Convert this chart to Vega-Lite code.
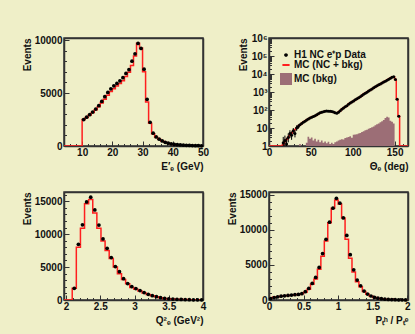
{
  "$schema": "https://vega.github.io/schema/vega-lite/v6.json",
  "background": "#efefc8",
  "padding": {"left": 21, "top": 32, "right": 5, "bottom": 8},
  "columns": 2,
  "spacing": {"row": 46, "column": 66},
  "bounds": "flush",
  "datasets": {
    "p1": [
      {"lo": 4, "mc": 0},
      {"lo": 10, "c": 10.5, "mc": 2490, "d": 2490},
      {"lo": 11, "c": 11.5, "mc": 2680, "d": 2720},
      {"lo": 12, "c": 12.5, "mc": 2920, "d": 2960},
      {"lo": 13, "c": 13.5, "mc": 3150, "d": 3200},
      {"lo": 14, "c": 14.5, "mc": 3420, "d": 3480},
      {"lo": 15, "c": 15.5, "mc": 3700, "d": 3800},
      {"lo": 16, "c": 16.5, "mc": 4050, "d": 4200},
      {"lo": 17, "c": 17.5, "mc": 4400, "d": 4650},
      {"lo": 18, "c": 18.5, "mc": 4800, "d": 5050},
      {"lo": 19, "c": 19.5, "mc": 5150, "d": 5400},
      {"lo": 20, "c": 20.5, "mc": 5400, "d": 5680},
      {"lo": 21, "c": 21.5, "mc": 5650, "d": 5900},
      {"lo": 22, "c": 22.5, "mc": 5900, "d": 6150},
      {"lo": 23, "c": 23.5, "mc": 6150, "d": 6450},
      {"lo": 24, "c": 24.5, "mc": 6550, "d": 6850},
      {"lo": 25, "c": 25.5, "mc": 6950, "d": 7200},
      {"lo": 26, "c": 26.5, "mc": 7600, "d": 8000},
      {"lo": 27, "c": 27.5, "mc": 8500, "d": 8700},
      {"lo": 28, "c": 28.5, "mc": 9700, "d": 9680},
      {"lo": 29, "c": 29.5, "mc": 9250, "d": 9200},
      {"lo": 30, "c": 30.5, "mc": 7000, "d": 7250},
      {"lo": 31, "c": 31.5, "mc": 4150, "d": 4410},
      {"lo": 32, "c": 32.5, "mc": 2150, "d": 2240},
      {"lo": 33, "c": 33.5, "mc": 1150, "d": 1210},
      {"lo": 34, "c": 34.5, "mc": 830, "d": 860},
      {"lo": 35, "c": 35.5, "mc": 630, "d": 640},
      {"lo": 36, "c": 36.5, "mc": 470, "d": 480},
      {"lo": 37, "c": 37.5, "mc": 345, "d": 350},
      {"lo": 38, "c": 38.5, "mc": 255, "d": 260},
      {"lo": 39, "c": 39.5, "mc": 185, "d": 190},
      {"lo": 40, "c": 40.5, "mc": 145, "d": 150},
      {"lo": 41, "c": 41.5, "mc": 118, "d": 120},
      {"lo": 42, "c": 42.5, "mc": 98, "d": 100},
      {"lo": 43, "c": 43.5, "mc": 78, "d": 80},
      {"lo": 44, "c": 44.5, "mc": 60, "d": 60},
      {"lo": 45, "c": 45.5, "mc": 48, "d": 50},
      {"lo": 46, "c": 46.5, "mc": 38, "d": 40},
      {"lo": 47, "c": 47.5, "mc": 30, "d": 30},
      {"lo": 48, "c": 48.5, "mc": 24, "d": 25},
      {"lo": 49, "c": 49.5, "mc": 20, "d": 20},
      {"lo": 50, "mc": 20}
    ],
    "p2": [
      {"lo": 0, "mc": 1},
      {"lo": 16, "c": 17, "mc": 1.2, "d": 1.5, "elo": 1, "ehi": 3.2},
      {"lo": 18, "c": 19, "mc": 1.7, "d": 2, "elo": 1, "ehi": 3.8},
      {"lo": 20, "c": 21, "mc": 2.3, "d": 1.3, "elo": 1, "ehi": 2.8},
      {"lo": 22, "c": 23, "mc": 3, "d": 3, "elo": 1.6, "ehi": 5},
      {"lo": 24, "c": 25, "mc": 4, "d": 5, "elo": 2.8, "ehi": 7.5},
      {"lo": 26, "c": 27, "mc": 5.2, "d": 4, "elo": 2.2, "ehi": 6.5},
      {"lo": 28, "c": 29, "mc": 6.7, "d": 7, "elo": 4.5, "ehi": 10},
      {"lo": 30, "c": 31, "mc": 8.3, "d": 5, "elo": 3, "ehi": 7.8},
      {"lo": 32, "c": 33, "mc": 10, "d": 10, "elo": 7, "ehi": 14},
      {"lo": 34, "c": 35, "mc": 12.5, "d": 12, "elo": 9, "ehi": 16},
      {"lo": 36, "c": 37, "mc": 15, "d": 15},
      {"lo": 38, "c": 39, "mc": 18, "d": 18},
      {"lo": 40, "c": 41, "mc": 21, "d": 21},
      {"lo": 42, "c": 43, "mc": 24, "d": 24},
      {"lo": 44, "c": 45, "mc": 28, "d": 28},
      {"lo": 46, "c": 47, "mc": 32, "d": 32},
      {"lo": 48, "c": 49, "mc": 36, "d": 36},
      {"lo": 50, "c": 51, "mc": 40, "d": 40},
      {"lo": 52, "c": 53, "mc": 43, "d": 43},
      {"lo": 54, "c": 55, "mc": 48, "d": 48},
      {"lo": 56, "c": 57, "mc": 55, "d": 55},
      {"lo": 58, "c": 59, "mc": 62, "d": 62},
      {"lo": 60, "c": 61, "mc": 69, "d": 70},
      {"lo": 62, "c": 63, "mc": 75, "d": 76},
      {"lo": 64, "c": 65, "mc": 80, "d": 80},
      {"lo": 66, "c": 67, "mc": 84, "d": 84},
      {"lo": 68, "c": 69, "mc": 87, "d": 88},
      {"lo": 70, "c": 71, "mc": 86, "d": 86},
      {"lo": 72, "c": 73, "mc": 84, "d": 84},
      {"lo": 74, "c": 75, "mc": 81, "d": 82},
      {"lo": 76, "c": 77, "mc": 77, "d": 77},
      {"lo": 78, "c": 79, "mc": 70, "d": 70},
      {"lo": 80, "c": 81, "mc": 67, "d": 67},
      {"lo": 82, "c": 83, "mc": 75, "d": 75},
      {"lo": 84, "c": 85, "mc": 92, "d": 92},
      {"lo": 86, "c": 87, "mc": 110, "d": 110},
      {"lo": 88, "c": 89, "mc": 130, "d": 130},
      {"lo": 90, "c": 91, "mc": 150, "d": 150},
      {"lo": 92, "c": 93, "mc": 175, "d": 175},
      {"lo": 94, "c": 95, "mc": 208, "d": 210},
      {"lo": 96, "c": 97, "mc": 242, "d": 245},
      {"lo": 98, "c": 99, "mc": 280, "d": 280},
      {"lo": 100, "c": 101, "mc": 320, "d": 320},
      {"lo": 102, "c": 103, "mc": 368, "d": 370},
      {"lo": 104, "c": 105, "mc": 420, "d": 420},
      {"lo": 106, "c": 107, "mc": 480, "d": 480},
      {"lo": 108, "c": 109, "mc": 550, "d": 550},
      {"lo": 110, "c": 111, "mc": 640, "d": 640},
      {"lo": 112, "c": 113, "mc": 740, "d": 740},
      {"lo": 114, "c": 115, "mc": 850, "d": 850},
      {"lo": 116, "c": 117, "mc": 980, "d": 980},
      {"lo": 118, "c": 119, "mc": 1130, "d": 1130},
      {"lo": 120, "c": 121, "mc": 1300, "d": 1300},
      {"lo": 122, "c": 123, "mc": 1480, "d": 1480},
      {"lo": 124, "c": 125, "mc": 1700, "d": 1700},
      {"lo": 126, "c": 127, "mc": 1950, "d": 1950},
      {"lo": 128, "c": 129, "mc": 2200, "d": 2200},
      {"lo": 130, "c": 131, "mc": 2500, "d": 2500},
      {"lo": 132, "c": 133, "mc": 2800, "d": 2800},
      {"lo": 134, "c": 135, "mc": 3150, "d": 3150},
      {"lo": 136, "c": 137, "mc": 3550, "d": 3550},
      {"lo": 138, "c": 139, "mc": 4000, "d": 4000},
      {"lo": 140, "c": 141, "mc": 4500, "d": 4500},
      {"lo": 142, "c": 143, "mc": 5100, "d": 5100},
      {"lo": 144, "c": 145, "mc": 5800, "d": 5800},
      {"lo": 146, "c": 147, "mc": 6500, "d": 6500},
      {"lo": 148, "c": 149, "mc": 7000, "d": 7000},
      {"lo": 150, "c": 151, "mc": 5000, "d": 5000},
      {"lo": 152, "c": 153, "mc": 400, "d": 400},
      {"lo": 154, "c": 155, "mc": 45, "d": 45},
      {"lo": 156, "mc": 1},
      {"lo": 166, "mc": 1}
    ],
    "p2bkg": [
      {"lo": 36, "b": 1.3}, {"lo": 38, "b": 1}, {"lo": 44, "b": 1.5}, {"lo": 46, "b": 3.3},
      {"lo": 48, "b": 2.5}, {"lo": 50, "b": 3}, {"lo": 52, "b": 2}, {"lo": 54, "b": 2.5},
      {"lo": 56, "b": 1.8}, {"lo": 58, "b": 2.2}, {"lo": 60, "b": 1.6}, {"lo": 62, "b": 2},
      {"lo": 64, "b": 1.5}, {"lo": 66, "b": 1.8}, {"lo": 68, "b": 1.4}, {"lo": 70, "b": 1.7},
      {"lo": 72, "b": 1.3}, {"lo": 74, "b": 1.5}, {"lo": 76, "b": 1.3}, {"lo": 78, "b": 1.6},
      {"lo": 80, "b": 1.8}, {"lo": 82, "b": 2}, {"lo": 84, "b": 2.2}, {"lo": 86, "b": 2.4},
      {"lo": 88, "b": 2.3}, {"lo": 90, "b": 2.8}, {"lo": 92, "b": 3}, {"lo": 94, "b": 3.2},
      {"lo": 96, "b": 3.5}, {"lo": 98, "b": 2.9}, {"lo": 100, "b": 4.2}, {"lo": 102, "b": 4.3},
      {"lo": 104, "b": 4.5}, {"lo": 106, "b": 5}, {"lo": 108, "b": 5.2}, {"lo": 110, "b": 6},
      {"lo": 112, "b": 6.5}, {"lo": 114, "b": 7.5}, {"lo": 116, "b": 8}, {"lo": 118, "b": 9},
      {"lo": 120, "b": 10}, {"lo": 122, "b": 11}, {"lo": 124, "b": 12}, {"lo": 126, "b": 14},
      {"lo": 128, "b": 16}, {"lo": 130, "b": 18}, {"lo": 132, "b": 21}, {"lo": 134, "b": 24},
      {"lo": 136, "b": 28}, {"lo": 138, "b": 36}, {"lo": 140, "b": 42}, {"lo": 142, "b": 38},
      {"lo": 144, "b": 25}, {"lo": 146, "b": 22}, {"lo": 148, "b": 18}, {"lo": 150, "b": 1}
    ],
    "p3": [
      {"lo": 1.97, "mc": 0},
      {"lo": 2.09, "c": 2.12, "mc": 1800, "d": 1780},
      {"lo": 2.15, "c": 2.18, "mc": 8000, "d": 8450},
      {"lo": 2.21, "c": 2.24, "mc": 10900, "d": 11420},
      {"lo": 2.27, "c": 2.30, "mc": 14600, "d": 14900},
      {"lo": 2.33, "c": 2.36, "mc": 15260, "d": 15620},
      {"lo": 2.39, "c": 2.42, "mc": 13200, "d": 13680},
      {"lo": 2.45, "c": 2.48, "mc": 10900, "d": 11370},
      {"lo": 2.51, "c": 2.54, "mc": 8960, "d": 9270},
      {"lo": 2.57, "c": 2.60, "mc": 7530, "d": 7840},
      {"lo": 2.63, "c": 2.66, "mc": 6300, "d": 6450},
      {"lo": 2.69, "c": 2.72, "mc": 5010, "d": 5070},
      {"lo": 2.75, "c": 2.78, "mc": 4000, "d": 4300},
      {"lo": 2.81, "c": 2.84, "mc": 3100, "d": 3230},
      {"lo": 2.87, "c": 2.90, "mc": 2450, "d": 2500},
      {"lo": 2.93, "c": 2.96, "mc": 1900, "d": 2040},
      {"lo": 2.99, "c": 3.02, "mc": 1650, "d": 1740},
      {"lo": 3.05, "c": 3.08, "mc": 1380, "d": 1430},
      {"lo": 3.11, "c": 3.14, "mc": 1080, "d": 1120},
      {"lo": 3.17, "c": 3.20, "mc": 840, "d": 870},
      {"lo": 3.23, "c": 3.26, "mc": 640, "d": 660},
      {"lo": 3.29, "c": 3.32, "mc": 490, "d": 510},
      {"lo": 3.35, "c": 3.38, "mc": 350, "d": 360},
      {"lo": 3.41, "c": 3.44, "mc": 245, "d": 250},
      {"lo": 3.47, "c": 3.50, "mc": 185, "d": 190},
      {"lo": 3.53, "c": 3.56, "mc": 145, "d": 150},
      {"lo": 3.59, "c": 3.62, "mc": 105, "d": 110},
      {"lo": 3.65, "c": 3.68, "mc": 78, "d": 80},
      {"lo": 3.71, "c": 3.74, "mc": 58, "d": 60},
      {"lo": 3.77, "c": 3.80, "mc": 44, "d": 45},
      {"lo": 3.83, "c": 3.86, "mc": 34, "d": 35},
      {"lo": 3.89, "c": 3.92, "mc": 25, "d": 25},
      {"lo": 3.95, "c": 3.98, "mc": 20, "d": 20},
      {"lo": 4.01, "mc": 20}
    ],
    "p4": [
      {"lo": 0, "c": 0.025, "mc": 300, "d": 200},
      {"lo": 0.05, "c": 0.075, "mc": 380, "d": 350},
      {"lo": 0.1, "c": 0.125, "mc": 460, "d": 450},
      {"lo": 0.15, "c": 0.175, "mc": 540, "d": 550},
      {"lo": 0.2, "c": 0.225, "mc": 600, "d": 600},
      {"lo": 0.25, "c": 0.275, "mc": 640, "d": 650},
      {"lo": 0.3, "c": 0.325, "mc": 690, "d": 700},
      {"lo": 0.35, "c": 0.375, "mc": 740, "d": 750},
      {"lo": 0.4, "c": 0.425, "mc": 800, "d": 800},
      {"lo": 0.45, "c": 0.475, "mc": 880, "d": 900},
      {"lo": 0.5, "c": 0.525, "mc": 1100, "d": 1180},
      {"lo": 0.55, "c": 0.575, "mc": 1550, "d": 1650},
      {"lo": 0.6, "c": 0.625, "mc": 2250, "d": 2370},
      {"lo": 0.65, "c": 0.675, "mc": 3000, "d": 3220},
      {"lo": 0.7, "c": 0.725, "mc": 4400, "d": 4640},
      {"lo": 0.75, "c": 0.775, "mc": 6250, "d": 6620},
      {"lo": 0.8, "c": 0.825, "mc": 8400, "d": 8650},
      {"lo": 0.85, "c": 0.875, "mc": 11000, "d": 11100},
      {"lo": 0.9, "c": 0.925, "mc": 13100, "d": 13100},
      {"lo": 0.95, "c": 0.975, "mc": 14250, "d": 14500},
      {"lo": 1.0, "c": 1.025, "mc": 13700, "d": 13800},
      {"lo": 1.05, "c": 1.075, "mc": 11700, "d": 11700},
      {"lo": 1.1, "c": 1.125, "mc": 8650, "d": 9200},
      {"lo": 1.15, "c": 1.175, "mc": 5950, "d": 6470},
      {"lo": 1.2, "c": 1.225, "mc": 4000, "d": 4300},
      {"lo": 1.25, "c": 1.275, "mc": 2600, "d": 2840},
      {"lo": 1.3, "c": 1.325, "mc": 1900, "d": 2030},
      {"lo": 1.35, "c": 1.375, "mc": 1200, "d": 1280},
      {"lo": 1.4, "c": 1.425, "mc": 820, "d": 850},
      {"lo": 1.45, "c": 1.475, "mc": 550, "d": 570},
      {"lo": 1.5, "c": 1.525, "mc": 370, "d": 380},
      {"lo": 1.55, "c": 1.575, "mc": 250, "d": 260},
      {"lo": 1.6, "c": 1.625, "mc": 170, "d": 180},
      {"lo": 1.65, "c": 1.675, "mc": 115, "d": 120},
      {"lo": 1.7, "c": 1.725, "mc": 78, "d": 80},
      {"lo": 1.75, "c": 1.775, "mc": 55, "d": 60},
      {"lo": 1.8, "c": 1.825, "mc": 38, "d": 40},
      {"lo": 1.85, "c": 1.875, "mc": 28, "d": 30},
      {"lo": 1.9, "c": 1.925, "mc": 19, "d": 20},
      {"lo": 1.95, "c": 1.975, "mc": 14, "d": 15},
      {"lo": 2.0, "mc": 14}
    ],
    "leg": [
      {"leg": "H1 NC e⁺p Data"},
      {"leg": "MC (NC + bkg)"},
      {"leg": "MC (bkg)"}
    ]
  },
  "concat": [
    {
      "width": 139, "height": 108,
      "view": {"stroke": "#333333", "strokeWidth": 1.5},
      "data": {"name": "p1"},
      "resolve": {"axis": {"x": "independent", "y": "independent"}},
      "layer": [
        {
          "mark": {"type": "line", "interpolate": "step-after", "color": "#ff1f1f", "strokeWidth": 1.5, "clip": true},
          "encoding": {
            "x": {"field": "lo", "type": "quantitative", "title": "E′ₑ (GeV)",
              "scale": {"domain": [4, 50], "nice": false, "zero": false},
              "axis": {"values": [4,6,8,10,12,14,16,18,20,22,24,26,28,30,32,34,36,38,40,42,44,46,48,50], "tickCount": 500, "format": "d",
                "labelExpr": "datum.value % 10 === 0 ? datum.label : ''",
                "tickSize": {"condition": {"test": "datum.value % 10 === 0", "value": -5}, "value": -2.5}}},
            "y": {"field": "mc", "type": "quantitative", "title": "Events",
              "scale": {"domain": [0, 10190], "nice": false},
              "axis": {"values": [0,1000,2000,3000,4000,5000,6000,7000,8000,9000,10000], "tickCount": 500, "format": "d",
                "labelExpr": "datum.value % 5000 === 0 ? datum.label : ''",
                "tickSize": {"condition": {"test": "datum.value % 5000 === 0", "value": -5}, "value": -2.5}}}
          }
        },
        {
          "mark": {"type": "point", "filled": true, "color": "#000000", "size": 14, "opacity": 1},
          "encoding": {
            "x": {"field": "c", "type": "quantitative", "axis": {"orient": "top", "labels": false, "ticks": false, "title": null}},
            "y": {"field": "d", "type": "quantitative", "axis": {"orient": "right", "labels": false, "ticks": false, "title": null}}
          }
        }
      ]
    },
    {
      "width": 139, "height": 108,
      "view": {"stroke": "#333333", "strokeWidth": 1.5},
      "resolve": {"axis": {"x": "independent", "y": "independent"}},
      "layer": [
        {
          "data": {"name": "p2bkg"},
          "mark": {"type": "area", "interpolate": "step-after", "color": "#9c6e76", "opacity": 1, "clip": true},
          "encoding": {
            "x": {"field": "lo", "type": "quantitative", "title": "Θₑ (deg)",
              "scale": {"domain": [0, 166], "nice": false, "zero": false},
              "axis": {"values": [0,10,20,30,40,50,60,70,80,90,100,110,120,130,140,150,160], "tickCount": 500, "format": "d",
                "labelExpr": "datum.value % 50 === 0 ? datum.label : ''",
                "tickSize": {"condition": {"test": "datum.value % 50 === 0", "value": -5}, "value": -2.5}}},
            "y": {"field": "b", "type": "quantitative", "title": "Events",
              "scale": {"type": "log", "domain": [1, 1000000], "nice": false},
              "axis": {"values": [1,2,3,4,5,6,7,8,9,10,20,30,40,50,60,70,80,90,100,200,300,400,500,600,700,800,900,1000,2000,3000,4000,5000,6000,7000,8000,9000,10000,20000,30000,40000,50000,60000,70000,80000,90000,100000,200000,300000,400000,500000,600000,700000,800000,900000,1000000], "tickCount": 500,
                "labelExpr": "datum.value === 1 ? '1' : datum.value === 10 ? '10' : datum.value === 100 ? '10²' : datum.value === 1000 ? '10³' : datum.value === 10000 ? '10⁴' : datum.value === 100000 ? '10⁵' : datum.value === 1000000 ? '10⁶' : ''",
                "tickSize": {"condition": {"test": "indexof([1,10,100,1000,10000,100000,1000000], datum.value) >= 0", "value": -5}, "value": -2.5}}},
            "y2": {"datum": 1}
          }
        },
        {
          "data": {"name": "p2"},
          "mark": {"type": "line", "interpolate": "step-after", "color": "#ff1f1f", "strokeWidth": 1.5, "clip": true},
          "encoding": {
            "x": {"field": "lo", "type": "quantitative", "axis": null},
            "y": {"field": "mc", "type": "quantitative", "axis": null}
          }
        },
        {
          "data": {"name": "p2"},
          "mark": {"type": "rule", "color": "#000000", "strokeWidth": 1, "clip": true},
          "encoding": {
            "x": {"field": "c", "type": "quantitative", "axis": null},
            "y": {"field": "elo", "type": "quantitative", "axis": null},
            "y2": {"field": "ehi"}
          }
        },
        {
          "data": {"name": "p2"},
          "mark": {"type": "point", "filled": true, "color": "#000000", "size": 9, "opacity": 1, "clip": true},
          "encoding": {
            "x": {"field": "c", "type": "quantitative", "axis": {"orient": "top", "labels": false, "ticks": false, "title": null}},
            "y": {"field": "d", "type": "quantitative", "axis": {"orient": "right", "labels": false, "ticks": false, "title": null}}
          }
        },
        {
          "data": {"name": "leg"},
          "mark": {"type": "point", "filled": true, "opacity": 1, "clip": true},
          "encoding": {
            "x": {"datum": -50, "type": "quantitative", "axis": null},
            "y": {"datum": 0.01, "type": "quantitative", "axis": null},
            "shape": {"field": "leg", "type": "nominal",
              "scale": {"domain": ["H1 NC e⁺p Data", "MC (NC + bkg)", "MC (bkg)"], "range": ["circle", "stroke", "square"]},
              "legend": {"orient": "none", "legendX": 216, "legendY": 12, "title": null, "labelFont": "Liberation Sans", "labelFontSize": 10, "labelFontWeight": "bold", "labelColor": "#111111", "labelOffset": 2, "rowPadding": 0, "symbolStrokeWidth": 2, "padding": 0}},
            "fill": {"field": "leg", "type": "nominal",
              "scale": {"domain": ["H1 NC e⁺p Data", "MC (NC + bkg)", "MC (bkg)"], "range": ["#000000", "#ff1f1f", "#9c6e76"]}},
            "stroke": {"field": "leg", "type": "nominal",
              "scale": {"domain": ["H1 NC e⁺p Data", "MC (NC + bkg)", "MC (bkg)"], "range": ["#000000", "#ff1f1f", "#9c6e76"]}},
            "size": {"field": "leg", "type": "nominal",
              "scale": {"domain": ["H1 NC e⁺p Data", "MC (NC + bkg)", "MC (bkg)"], "range": [3, 100, 64]}}
          }
        }
      ]
    },
    {
      "width": 139, "height": 108,
      "view": {"stroke": "#333333", "strokeWidth": 1.5},
      "data": {"name": "p3"},
      "resolve": {"axis": {"x": "independent", "y": "independent"}},
      "layer": [
        {
          "mark": {"type": "line", "interpolate": "step-after", "color": "#ff1f1f", "strokeWidth": 1.5, "clip": true},
          "encoding": {
            "x": {"field": "lo", "type": "quantitative", "title": "Q²ₑ (GeV²)",
              "scale": {"domain": [1.97, 4.0], "nice": false, "zero": false},
              "axis": {"values": [2,2.1,2.2,2.3,2.4,2.5,2.6,2.7,2.8,2.9,3,3.1,3.2,3.3,3.4,3.5,3.6,3.7,3.8,3.9,4], "tickCount": 500, "format": "~g",
                "labelExpr": "abs(datum.value*2 - round(datum.value*2)) < 0.001 ? datum.label : ''",
                "tickSize": {"condition": {"test": "abs(datum.value*2 - round(datum.value*2)) < 0.001", "value": -5}, "value": -2.5}}},
            "y": {"field": "mc", "type": "quantitative", "title": "Events",
              "scale": {"domain": [0, 16400], "nice": false},
              "axis": {"values": [0,1000,2000,3000,4000,5000,6000,7000,8000,9000,10000,11000,12000,13000,14000,15000,16000], "tickCount": 500, "format": "d",
                "labelExpr": "datum.value % 5000 === 0 ? datum.label : ''",
                "tickSize": {"condition": {"test": "datum.value % 5000 === 0", "value": -5}, "value": -2.5}}}
          }
        },
        {
          "mark": {"type": "point", "filled": true, "color": "#000000", "size": 14, "opacity": 1},
          "encoding": {
            "x": {"field": "c", "type": "quantitative", "axis": {"orient": "top", "labels": false, "ticks": false, "title": null}},
            "y": {"field": "d", "type": "quantitative", "axis": {"orient": "right", "labels": false, "ticks": false, "title": null}}
          }
        }
      ]
    },
    {
      "width": 139, "height": 108,
      "view": {"stroke": "#333333", "strokeWidth": 1.5},
      "data": {"name": "p4"},
      "resolve": {"axis": {"x": "independent", "y": "independent"}},
      "layer": [
        {
          "mark": {"type": "line", "interpolate": "step-after", "color": "#ff1f1f", "strokeWidth": 1.5, "clip": true},
          "encoding": {
            "x": {"field": "lo", "type": "quantitative", "title": "Pₜʰ / Pₜᵉ",
              "scale": {"domain": [0, 2.01], "nice": false, "zero": false},
              "axis": {"values": [0,0.1,0.2,0.3,0.4,0.5,0.6,0.7,0.8,0.9,1,1.1,1.2,1.3,1.4,1.5,1.6,1.7,1.8,1.9,2], "tickCount": 500, "format": "~g",
                "labelExpr": "abs(datum.value*2 - round(datum.value*2)) < 0.001 ? datum.label : ''",
                "tickSize": {"condition": {"test": "abs(datum.value*2 - round(datum.value*2)) < 0.001", "value": -5}, "value": -2.5}}},
            "y": {"field": "mc", "type": "quantitative", "title": "Events",
              "scale": {"domain": [0, 15400], "nice": false},
              "axis": {"values": [0,1000,2000,3000,4000,5000,6000,7000,8000,9000,10000,11000,12000,13000,14000,15000], "tickCount": 500, "format": "d",
                "labelExpr": "datum.value % 5000 === 0 ? datum.label : ''",
                "tickSize": {"condition": {"test": "datum.value % 5000 === 0", "value": -5}, "value": -2.5}}}
          }
        },
        {
          "mark": {"type": "point", "filled": true, "color": "#000000", "size": 14, "opacity": 1},
          "encoding": {
            "x": {"field": "c", "type": "quantitative", "axis": {"orient": "top", "labels": false, "ticks": false, "title": null}},
            "y": {"field": "d", "type": "quantitative", "axis": {"orient": "right", "labels": false, "ticks": false, "title": null}}
          }
        }
      ]
    }
  ],
  "config": {
    "font": "Liberation Sans",
    "view": {"stroke": "#333333", "strokeWidth": 1.5},
    "axis": {"domain": true, "domainColor": "#333333", "domainWidth": 1.5, "grid": false, "labelFont": "Liberation Sans", "labelFontWeight": "bold", "labelFontSize": 10, "labelColor": "#111111",
      "titleFont": "Liberation Sans", "titleFontWeight": "bold", "titleFontSize": 10, "titleColor": "#111111",
      "tickColor": "#333333", "tickWidth": 1, "labelFlush": false, "labelOverlap": false, "labelBound": false, "titleAnchor": "end"},
    "axisX": {"labelPadding": 6, "titlePadding": 2},
    "axisY": {"labelPadding": 7, "titlePadding": 2}
  }
}
